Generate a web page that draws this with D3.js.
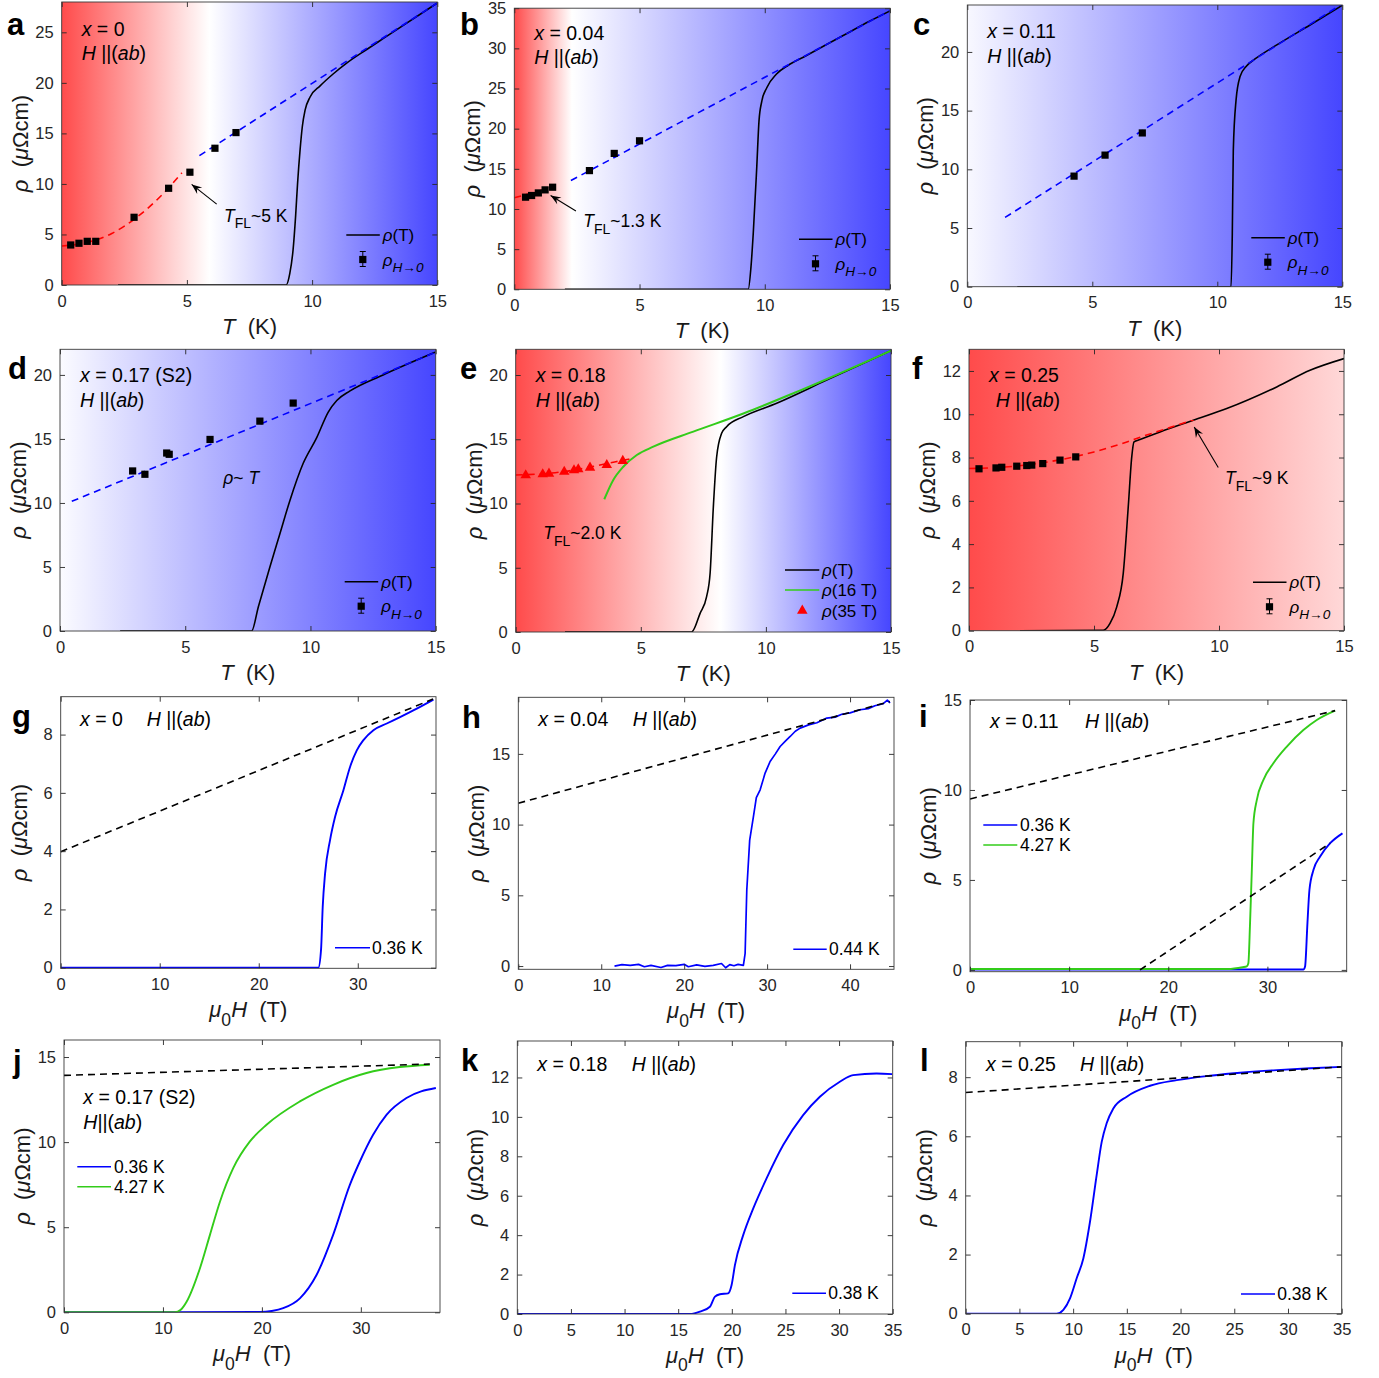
<!DOCTYPE html>
<html>
<head>
<meta charset="utf-8">
<script src="https://cdn.jsdelivr.net/npm/d3@7"></script>
<style>
  body { margin: 0; background: #fff; }
  svg { display: block; font-family: "Liberation Sans", Arial, Helvetica, sans-serif; }
  text { white-space: pre; }
</style>
</head>
<body>
<svg id="fig" width="1379" height="1378"></svg>
<script>
// ================= data: resistivity vs temperature (panels a–f) =================
// a: x = 0
const aRhoT   = [[2.25,0],[8.96,0],[9.11,1.16],[9.24,3.47],[9.34,6.77],[9.42,10.07],[9.52,13.37],[9.61,15.68],[9.72,17.3],[9.92,18.6],[10.32,19.7],[10.85,20.9],[11.38,21.95],[12.18,23.3],[12.85,24.4],[15,27.9]];
const aFitFL  = [[0,3.86],[1,4.2],[2,5.1],[3,6.7],[4,8.9],[4.8,11.1]];
const aFitLin = [[5.5,12.8],[15,27.9]];
const aRhoH0  = [[0.36,3.96],[0.69,4.13],[1.02,4.32],[1.36,4.32],[2.89,6.7],[4.27,9.57],[5.12,11.16],[6.12,13.53],[6.96,15.08]];
const aBg     = [[0,"#ff4b4b"],[5.9,"#ffffff"],[15,"#4646ff"]];

// b: x = 0.04
const bRhoT   = [[2.02,0],[9.34,0],[9.45,2.8],[9.54,6.94],[9.68,15.2],[9.77,20.97],[9.88,23.4],[10.08,25.1],[10.47,26.8],[10.94,27.9],[11.54,28.9],[13.13,31.6],[14.2,33.4],[15,34.66]];
const bFitFL  = [[0,11.39],[1.49,12.7]];
const bFitLin = [[2.26,13.54],[15,34.7]];
const bRhoH0  = [[0.45,11.47],[0.69,11.68],[0.96,12.0],[1.23,12.38],[1.53,12.71],[3.0,14.78],[3.99,16.92],[5.0,18.49]];
const bBg     = [[0,"#ff4b4b"],[2.3,"#ffffff"],[15,"#4646ff"]];

// c: x = 0.11
const cRhoT   = [[2.0,0],[10.55,0],[10.6,4.5],[10.64,11.6],[10.75,15.9],[10.91,17.9],[11.17,18.8],[11.51,19.4],[12.38,20.6],[13.71,22.3],[15,23.97]];
const cFitLin = [[1.51,5.9],[15,24.1]];
const cRhoH0  = [[4.27,9.42],[5.51,11.21],[7.0,13.1]];
const cBg     = [[0,"#f8f8ff"],[15,"#4646ff"]];

// d: x = 0.17 (S2)
const dRhoT   = [[2.4,0],[7.65,0],[7.92,1.9],[8.38,5.0],[8.78,7.6],[9.18,10.2],[9.71,13.1],[10.25,15.1],[10.71,17.1],[11.05,18.0],[11.58,18.75],[12.9,20.0],[14.97,21.77]];
const dFitLin = [[0.47,10.13],[15,21.77]];
const dRhoH0  = [[2.9,12.5],[3.39,12.24],[4.26,13.9],[4.36,13.8],[5.99,14.96],[7.98,16.39],[9.31,17.8]];
const dBg     = [[0,"#fbfbff"],[15,"#4646ff"]];

// e: x = 0.18
const eRhoT   = [[1.97,0],[7.03,0],[7.37,1.45],[7.63,2.75],[7.77,4.57],[7.9,9.75],[8.03,13.6],[8.23,15.46],[8.43,15.98],[9.1,16.76],[10.43,17.8],[12.43,19.6],[15,21.9]];
const eRho16  = [[3.54,10.33],[3.9,11.83],[4.3,12.86],[4.84,13.77],[5.5,14.42],[7.1,15.59],[9.1,17.0],[11.1,18.58],[15,21.9]];
const eRho35  = [[0.4,12.27],[1.08,12.35],[1.33,12.4],[1.94,12.55],[2.33,12.66],[2.5,12.74],[2.97,12.87],[3.64,13.07],[4.28,13.39]];
const eFitFL  = [[0,12.22],[1,12.3],[2,12.5],[3,12.85],[4,13.25],[4.64,13.5]];
const eBg     = [[0,"#ff4b4b"],[8.2,"#ffffff"],[15,"#4646ff"]];

// f: x = 0.25
const fRhoT   = [[2.04,0],[5.37,0.02],[5.64,0.34],[5.91,1.1],[6.17,2.65],[6.37,5.72],[6.51,8.03],[6.6,8.72],[6.84,8.83],[7.64,9.18],[8.97,9.72],[10.31,10.26],[12.31,11.26],[13.64,12.03],[15,12.57]];
const fFitFL  = [[0,7.49],[1,7.53],[2,7.62],[3,7.77],[4,7.98],[5,8.26],[6,8.6],[7,9.0],[8,9.37],[9,9.75]];
const fRhoH0  = [[0.4,7.48],[1.08,7.52],[1.31,7.55],[1.91,7.6],[2.31,7.63],[2.51,7.65],[2.95,7.72],[3.64,7.88],[4.27,8.03]];
const fBg     = [[0,"#ff4b4b"],[15,"#ffd8d8"]];

// ================= data: resistivity vs field (panels g–l) =================
const gRho036 = [[0,0],[26.02,0],[26.29,0.61],[26.46,2.09],[26.7,3.24],[27.2,4.38],[27.71,5.18],[28.55,6.09],[29.22,6.89],[29.9,7.46],[30.57,7.81],[31.58,8.15],[32.93,8.38],[34.27,8.6],[35.96,8.89],[37.64,9.2]];
const gFit    = [[0,3.98],[37.6,9.22]];

const hRho044 = [[11.6,0],[12.5,0.1],[13.5,0.05],[14.5,0.12],[15.2,-0.05],[16,0.05],[17.2,-0.1],[18,0.05],[19,0.03],[20,0.12],[20.5,-0.05],[21.5,0.08],[22.5,-0.02],[23.5,0.05],[24.5,0.18],[25,-0.12],[25.5,0.1],[26,0.02],[26.5,0.12],[27.14,0.05],[27.35,0.9],[27.55,5.38],[27.9,8.9],[28.35,10.57],[28.7,11.9],[29.16,12.46],[29.76,13.64],[30.36,14.46],[31.0,15.0],[31.57,15.52],[32.2,15.9],[32.78,16.23],[33.4,16.6],[33.98,16.82],[35.0,17.05],[36.0,17.2],[37.2,17.53],[38.2,17.6],[39.0,17.8],[40.0,17.9],[41.22,18.12],[42.2,18.2],[43.0,18.4],[44.0,18.55],[44.5,18.8],[44.82,18.6]];
const hFit    = [[0,11.51],[44.8,18.7]];

const iRho036 = [[0,0.02],[33.63,0.02],[33.8,0.19],[34.04,2.6],[34.24,4.44],[34.65,5.56],[35.32,6.3],[36.33,7.04],[37.57,7.59]];
const iRho427 = [[0,0.05],[26,0.05],[27.5,0.15],[27.92,0.2],[28.08,0.37],[28.25,2.6],[28.42,5.37],[28.59,8.15],[28.93,9.44],[29.6,10.56],[30.6,11.48],[31.96,12.41],[33.63,13.33],[34.98,13.89],[36.83,14.41]];
const iFitHi  = [[0,9.5],[36.83,14.41]];
const iFitLo  = [[17.15,0],[36.33,7.04]];

const jRho036 = [[0,0],[19.8,0.02],[21,0.08],[22.15,0.24],[23.84,0.82],[25.52,2.19],[27.2,4.55],[28.89,7.49],[29.9,8.86],[31.24,10.43],[32.59,11.6],[34.61,12.59],[37.58,13.18]];
const jRho427 = [[0,0],[11.2,0],[11.8,0.15],[12.39,0.62],[13.74,2.59],[14.75,4.55],[15.76,6.5],[17.1,8.47],[18.79,10.04],[20.47,11.02],[23.84,12.39],[27.2,13.37],[30.57,14.06],[33.94,14.41],[36.97,14.55]];
const jFit    = [[0,13.92],[36.97,14.59]];

const kRho038 = [[0,0],[16.1,0],[17.03,0.12],[17.96,0.37],[18.43,0.88],[18.89,1.0],[19.66,1.05],[19.98,1.47],[20.29,2.48],[21.06,4.0],[22.0,5.36],[23.24,6.88],[24.79,8.57],[26.65,10.09],[28.21,11.02],[30.07,11.78],[31.31,12.12],[33.49,12.2],[34.95,12.17]];

const lRho038 = [[0,0],[8.47,0],[9.09,0.13],[9.71,0.52],[10.33,1.2],[10.95,1.87],[11.57,3.11],[12.19,4.69],[12.66,5.81],[13.12,6.44],[13.74,6.94],[14.99,7.34],[17.16,7.71],[19.64,7.9],[22.74,8.05],[25.84,8.16],[28.95,8.24],[32.05,8.3],[35,8.35]];
const lFit    = [[0,7.48],[35,8.35]];

// ================= tick values =================
const tTicks   = [0,5,10,15];
const aYTicks  = [0,5,10,15,20,25];
const bYTicks  = [0,5,10,15,20,25,30,35];
const cdeYTicks = [0,5,10,15,20];
const fYTicks  = [0,2,4,6,8,10,12];
const gYTicks  = [0,2,4,6,8];
const hijYTicks = [0,5,10,15];
const kYTicks  = [0,2,4,6,8,10,12];
const lYTicks  = [0,2,4,6,8];
const h38Ticks = [0,10,20,30];
const h45Ticks = [0,10,20,30,40];
const h35Ticks = [0,5,10,15,20,25,30,35];

// ================= colours and styles =================
const BLUE = "#0000ff", RED = "#ff0000", GREEN = "#33cc1a", BLACK = "#000000", AXIS = "#262626";
const FONT = '"Liberation Sans", Arial, Helvetica, sans-serif';

const svg = d3.select("#fig");
const defs = svg.append("defs");

// Text made of styled runs: [string, flags] with flags 'i' (italic) and/or 's' (subscript)
function addText(g, x, y, parts, size, opts = {}) {
  const t = g.append("text").attr("x", x).attr("y", y)
    .attr("font-size", size).attr("fill", opts.fill || "#000");
  if (opts.anchor) t.attr("text-anchor", opts.anchor);
  if (opts.transform) t.attr("transform", opts.transform);
  if (opts.weight) t.attr("font-weight", opts.weight);
  let shift = 0;
  parts.forEach(([s, st = ""]) => {
    const sp = t.append("tspan").text(s);
    if (st.includes("i")) sp.attr("font-style", "italic");
    const want = st.includes("s") ? size * 0.38 : 0;
    if (want !== shift) { sp.attr("dy", want - shift); shift = want; }
    if (st.includes("s")) sp.attr("font-size", size * 0.8);
  });
  return t;
}

const xIs = "x", Hab = [["H", "i"], [" ||("], ["ab", "i"], [")"]];

function drawPanel(p) {
  const [L, T, R, B] = p.box;
  const x = d3.scaleLinear().domain(p.xDom).range([L, R]);
  const y = d3.scaleLinear().domain(p.yDom).range([B, T]);
  const g = svg.append("g");

  // shaded background
  if (p.bg) {
    const gid = "bg-" + p.id;
    const lg = defs.append("linearGradient").attr("id", gid)
      .attr("gradientUnits", "userSpaceOnUse")
      .attr("x1", x(p.xDom[0])).attr("x2", x(p.xDom[1])).attr("y1", 0).attr("y2", 0);
    p.bg.forEach(([v, c]) => lg.append("stop")
      .attr("offset", (v - p.xDom[0]) / (p.xDom[1] - p.xDom[0])).attr("stop-color", c));
    g.append("rect").attr("x", L).attr("y", T).attr("width", R - L).attr("height", B - T)
      .attr("fill", `url(#${gid})`);
  }

  const cid = "clip-" + p.id;
  defs.append("clipPath").attr("id", cid).append("rect")
    .attr("x", L).attr("y", T).attr("width", R - L).attr("height", B - T);
  const pg = g.append("g").attr("clip-path", `url(#${cid})`);

  (p.lines || []).forEach(l => {
    const gen = d3.line().x(d => x(d[0])).y(d => y(d[1]))
      .curve(l.linear ? d3.curveLinear : d3.curveMonotoneX);
    pg.append("path").attr("d", gen(l.data)).attr("fill", "none")
      .attr("stroke", l.color).attr("stroke-width", l.width || 1.6)
      .attr("stroke-dasharray", l.dash ? "7,5" : null)
      .attr("stroke-linejoin", "round");
  });

  (p.marks || []).forEach(m => {
    if (m.shape === "sq") {
      pg.selectAll(null).data(m.data).join("rect")
        .attr("x", d => x(d[0]) - 3.6).attr("y", d => y(d[1]) - 3.6)
        .attr("width", 7.2).attr("height", 7.2).attr("fill", m.color);
    } else {
      const sym = d3.symbol(d3.symbolTriangle, 48);
      pg.selectAll(null).data(m.data).join("path")
        .attr("d", sym).attr("transform", d => `translate(${x(d[0])},${y(d[1]) + 1})`)
        .attr("fill", m.color);
    }
  });

  // arrows pointing at the crossover temperature
  (p.arrows || []).forEach(a => {
    const x1 = x(a.from[0]), y1 = y(a.from[1]), x2 = x(a.to[0]), y2 = y(a.to[1]);
    g.append("line").attr("x1", x1).attr("y1", y1).attr("x2", x2).attr("y2", y2)
      .attr("stroke", "#000").attr("stroke-width", 1.1);
    const ang = Math.atan2(y2 - y1, x2 - x1), len = 11, wid = 0.38;
    const p1 = [x2 - len * Math.cos(ang - wid), y2 - len * Math.sin(ang - wid)];
    const p2 = [x2 - len * Math.cos(ang + wid), y2 - len * Math.sin(ang + wid)];
    const pm = [x2 - len * 0.6 * Math.cos(ang), y2 - len * 0.6 * Math.sin(ang)];
    g.append("path").attr("d", `M${x2},${y2}L${p1[0]},${p1[1]}L${pm[0]},${pm[1]}L${p2[0]},${p2[1]}Z`)
      .attr("fill", "#000");
  });

  (p.dataText || []).forEach(t => addText(g, x(t.at[0]), y(t.at[1]), t.parts, 17.5));

  // annotation text in the upper-left corner
  (p.notes || []).forEach(n => addText(g, L + n.dx, T + n.dy, n.parts, 19.5));

  // legend
  (p.legend || []).forEach(e => {
    const ex = (e.anchor === "L" ? L : R), ey = (e.vAnchor === "T" ? T : B);
    if (e.kind === "line") {
      g.append("line").attr("x1", ex + e.x1).attr("x2", ex + e.x2)
        .attr("y1", ey + e.y).attr("y2", ey + e.y)
        .attr("stroke", e.color).attr("stroke-width", 1.6);
    } else if (e.kind === "sq") {
      const cx = ex + e.cx, cy = ey + e.y;
      g.append("line").attr("x1", cx).attr("x2", cx).attr("y1", cy - 8).attr("y2", cy + 7)
        .attr("stroke", "#000").attr("stroke-width", 1);
      g.append("line").attr("x1", cx - 3).attr("x2", cx + 3).attr("y1", cy - 8).attr("y2", cy - 8).attr("stroke", "#000");
      g.append("line").attr("x1", cx - 3).attr("x2", cx + 3).attr("y1", cy + 7).attr("y2", cy + 7).attr("stroke", "#000");
      g.append("rect").attr("x", cx - 3.6).attr("y", cy - 3.6).attr("width", 7.2).attr("height", 7.2).attr("fill", "#000");
    } else if (e.kind === "tri") {
      g.append("path").attr("d", d3.symbol(d3.symbolTriangle, 48))
        .attr("transform", `translate(${ex + e.cx},${ey + e.y})`).attr("fill", e.color);
    }
    addText(g, ex + e.tx, ey + e.y + 6, e.parts, e.size || 17);
  });

  // axes: inward ticks on all four sides
  const styleAxis = s => {
    s.select(".domain").remove();
    s.attr("font-size", 16.5).attr("font-family", FONT).attr("color", AXIS);
    s.selectAll("text").attr("fill", AXIS);
    s.selectAll("line").attr("stroke-width", 0.9);
  };
  g.append("g").attr("transform", `translate(0,${B})`)
    .call(d3.axisBottom(x).tickValues(p.xTicks).tickSizeInner(-5).tickSizeOuter(0).tickPadding(10).tickFormat(d3.format("d")))
    .call(styleAxis);
  g.append("g").attr("transform", `translate(0,${T})`)
    .call(d3.axisTop(x).tickValues(p.xTicks).tickSizeInner(-5).tickSizeOuter(0).tickFormat(""))
    .call(styleAxis);
  g.append("g").attr("transform", `translate(${L},0)`)
    .call(d3.axisLeft(y).tickValues(p.yTicks).tickSizeInner(-5).tickSizeOuter(0).tickPadding(8).tickFormat(d3.format("d")))
    .call(styleAxis);
  g.append("g").attr("transform", `translate(${R},0)`)
    .call(d3.axisRight(y).tickValues(p.yTicks).tickSizeInner(-5).tickSizeOuter(0).tickFormat(""))
    .call(styleAxis);
  g.append("rect").attr("x", L).attr("y", T).attr("width", R - L).attr("height", B - T)
    .attr("fill", "none").attr("stroke", "#3a3a3a").attr("stroke-width", 0.9);

  // axis titles
  const xLab = p.field
    ? [["\u03bc", "i"], ["0", "s"], ["H", "i"], ["  (T)"]]
    : [["T", "i"], ["  (K)"]];
  addText(g, (L + R) / 2, B + 49, xLab, 22, { anchor: "middle", fill: "#1a1a1a" });
  const yx = L - 34, yy = (T + B) / 2;
  addText(g, yx, yy, [["\u03c1", "i"], ["  ("], ["\u03bc", "i"], ["\u03a9cm)"]], 22,
    { anchor: "middle", transform: `rotate(-90,${yx},${yy})`, fill: "#1a1a1a" });

  // panel letter
  addText(svg, p.letter[1], p.letter[2], [[p.letter[0]]], 31, { weight: "bold" });
}

// legend rows shared by panels a–d and f
const legRhoT = (dy) => [
  { kind: "line", x1: -91, x2: -57.5, y: dy, color: BLACK, tx: -54.5, parts: [["\u03c1", "i"], ["(T)"]] },
  { kind: "sq", cx: -74.5, y: dy + 24.5, tx: -54.5, parts: [["\u03c1", "i"], ["H\u21920", "is"]] }
];
const TFL = (t) => [["T", "i"], ["FL", "s"], [t]];

const panels = [
  { id: "a", box: [61.7, 2, 437.3, 285], xDom: [0, 15], yDom: [0, 28], xTicks: tTicks, yTicks: aYTicks, bg: aBg,
    letter: ["a", 7, 35],
    lines: [{ data: aRhoT, color: BLACK }, { data: aFitFL, color: RED, dash: true }, { data: aFitLin, color: BLUE, dash: true }],
    marks: [{ data: aRhoH0, shape: "sq", color: "#000" }],
    arrows: [{ from: [6.19, 8.0], to: [5.19, 9.95] }],
    dataText: [{ at: [6.48, 6.27], parts: TFL("~5 K") }],
    notes: [{ dx: 20, dy: 33.7, parts: [[xIs, "i"], [" = 0"]] }, { dx: 20, dy: 58, parts: Hab }],
    legend: legRhoT(-50) },
  { id: "b", box: [514.3, 8.2, 890, 289.3], xDom: [0, 15], yDom: [0, 35], xTicks: tTicks, yTicks: bYTicks, bg: bBg,
    letter: ["b", 460, 35],
    lines: [{ data: bRhoT, color: BLACK }, { data: bFitFL, color: RED, dash: true }, { data: bFitLin, color: BLUE, dash: true }],
    marks: [{ data: bRhoH0, shape: "sq", color: "#000" }],
    arrows: [{ from: [2.46, 9.74], to: [1.45, 11.68] }],
    dataText: [{ at: [2.75, 7.75], parts: TFL("~1.3 K") }],
    notes: [{ dx: 20, dy: 32, parts: [[xIs, "i"], [" = 0.04"]] }, { dx: 20, dy: 56, parts: Hab }],
    legend: legRhoT(-50) },
  { id: "c", box: [967.3, 5, 1342.3, 286.7], xDom: [0, 15], yDom: [0, 24], xTicks: tTicks, yTicks: cdeYTicks, bg: cBg,
    letter: ["c", 913, 35],
    lines: [{ data: cRhoT, color: BLACK }, { data: cFitLin, color: BLUE, dash: true }],
    marks: [{ data: cRhoH0, shape: "sq", color: "#000" }],
    notes: [{ dx: 20, dy: 33.3, parts: [[xIs, "i"], [" = 0.11"]] }, { dx: 20, dy: 57.7, parts: Hab }],
    legend: legRhoT(-49) },
  { id: "d", box: [60, 349.3, 435.7, 631], xDom: [0, 15], yDom: [0, 22], xTicks: tTicks, yTicks: cdeYTicks, bg: dBg,
    letter: ["d", 8, 379],
    lines: [{ data: dRhoT, color: BLACK }, { data: dFitLin, color: BLUE, dash: true }],
    marks: [{ data: dRhoH0, shape: "sq", color: "#000" }],
    dataText: [{ at: [6.52, 11.5], parts: [["\u03c1", "i"], ["~ "], ["T", "i"]] }],
    notes: [{ dx: 20, dy: 33, parts: [[xIs, "i"], [" = 0.17 (S2)"]] }, { dx: 20, dy: 57.4, parts: Hab }],
    legend: legRhoT(-49.3) },
  { id: "e", box: [515.7, 349.3, 891, 632], xDom: [0, 15], yDom: [0, 22], xTicks: tTicks, yTicks: cdeYTicks, bg: eBg,
    letter: ["e", 460, 379],
    lines: [{ data: eRhoT, color: BLACK }, { data: eRho16, color: GREEN, width: 2 }, { data: eFitFL, color: RED, dash: true }],
    marks: [{ data: eRho35, shape: "tri", color: RED }],
    dataText: [{ at: [1.1, 7.24], parts: TFL("~2.0 K") }],
    notes: [{ dx: 20, dy: 32.4, parts: [[xIs, "i"], [" = 0.18"]] }, { dx: 20, dy: 57.4, parts: Hab }],
    legend: [
      { kind: "line", x1: -106, x2: -71.7, y: -62, color: BLACK, tx: -69, parts: [["\u03c1", "i"], ["(T)"]] },
      { kind: "line", x1: -106, x2: -71.7, y: -42, color: GREEN, tx: -69, parts: [["\u03c1", "i"], ["(16 T)"]] },
      { kind: "tri", cx: -88.7, y: -21.3, color: RED, tx: -69, parts: [["\u03c1", "i"], ["(35 T)"]] }
    ] },
  { id: "f", box: [969, 349.3, 1344, 630.7], xDom: [0, 15], yDom: [0, 13], xTicks: tTicks, yTicks: fYTicks, bg: fBg,
    letter: ["f", 912, 379],
    lines: [{ data: fRhoT, color: BLACK }, { data: fFitFL, color: RED, dash: true }],
    marks: [{ data: fRhoH0, shape: "sq", color: "#000" }],
    arrows: [{ from: [9.97, 7.54], to: [9.01, 9.41] }],
    dataText: [{ at: [10.24, 6.76], parts: TFL("~9 K") }],
    notes: [{ dx: 20, dy: 32.4, parts: [[xIs, "i"], [" = 0.25"]] }, { dx: 26.7, dy: 57.4, parts: Hab }],
    legend: legRhoT(-48.4) },

  { id: "g", field: true, box: [60.7, 696.7, 436, 968.3], xDom: [0, 37.9], yDom: [-0.02, 9.3], xTicks: h38Ticks, yTicks: gYTicks,
    letter: ["g", 12, 727],
    lines: [{ data: gRho036, color: BLUE, width: 1.9 }, { data: gFit, color: BLACK, dash: true }],
    notes: [{ dx: 19.3, dy: 29, parts: [[xIs, "i"], [" = 0"]] }, { dx: 86, dy: 29, parts: Hab }],
    legend: [{ kind: "line", x1: -101, x2: -66, y: -20.6, color: BLUE, tx: -64, size: 17.5, parts: [["0.36 K"]] }] },
  { id: "h", field: true, box: [518.3, 697.3, 894, 969.3], xDom: [0, 45.3], yDom: [-0.23, 19], xTicks: h45Ticks, yTicks: hijYTicks,
    letter: ["h", 462, 728],
    lines: [{ data: hRho044, color: BLUE, width: 1.7, linear: true }, { data: hFit, color: BLACK, dash: true }],
    notes: [{ dx: 20, dy: 28.7, parts: [[xIs, "i"], [" = 0.04"]] }, { dx: 114.4, dy: 28.7, parts: Hab }],
    legend: [{ kind: "line", x1: -100.7, x2: -67.3, y: -20, color: BLUE, tx: -65, size: 17.5, parts: [["0.44 K"]] }] },
  { id: "i", field: true, box: [970, 700, 1346.7, 971.7], xDom: [0, 38], yDom: [-0.1, 15], xTicks: h38Ticks, yTicks: hijYTicks,
    letter: ["i", 919, 727],
    lines: [{ data: iRho036, color: BLUE, width: 1.9 }, { data: iRho427, color: GREEN, width: 1.9 },
            { data: iFitHi, color: BLACK, dash: true }, { data: iFitLo, color: BLACK, dash: true }],
    notes: [{ dx: 20, dy: 28.3, parts: [[xIs, "i"], [" = 0.11"]] }, { dx: 115, dy: 28.3, parts: Hab }],
    legend: [
      { kind: "line", anchor: "L", vAnchor: "T", x1: 13.3, x2: 47.3, y: 125, color: BLUE, tx: 50, size: 17.5, parts: [["0.36 K"]] },
      { kind: "line", anchor: "L", vAnchor: "T", x1: 13.3, x2: 47.3, y: 145, color: GREEN, tx: 50, size: 17.5, parts: [["4.27 K"]] }
    ] },
  { id: "j", field: true, box: [64, 1040, 440, 1312.3], xDom: [0, 38], yDom: [0, 16], xTicks: h38Ticks, yTicks: hijYTicks,
    letter: ["j", 13, 1072],
    lines: [{ data: jRho036, color: BLUE, width: 1.9 }, { data: jRho427, color: GREEN, width: 1.9 }, { data: jFit, color: BLACK, dash: true }],
    notes: [{ dx: 19.3, dy: 64, parts: [[xIs, "i"], [" = 0.17 (S2)"]] },
            { dx: 19.3, dy: 89.3, parts: [["H", "i"], ["||("], ["ab", "i"], [")"]] }],
    legend: [
      { kind: "line", anchor: "L", vAnchor: "T", x1: 13.3, x2: 47, y: 126.7, color: BLUE, tx: 50, size: 17.5, parts: [["0.36 K"]] },
      { kind: "line", anchor: "L", vAnchor: "T", x1: 13.3, x2: 47, y: 146.7, color: GREEN, tx: 50, size: 17.5, parts: [["4.27 K"]] }
    ] },
  { id: "k", field: true, box: [517.3, 1041, 892.7, 1314], xDom: [0, 35], yDom: [0, 13.85], xTicks: h35Ticks, yTicks: kYTicks,
    letter: ["k", 461, 1071],
    lines: [{ data: kRho038, color: BLUE, width: 1.9 }],
    notes: [{ dx: 20, dy: 30, parts: [[xIs, "i"], [" = 0.18"]] }, { dx: 114.4, dy: 30, parts: Hab }],
    legend: [{ kind: "line", x1: -100.4, x2: -66.7, y: -20.7, color: BLUE, tx: -64.5, size: 17.5, parts: [["0.38 K"]] }] },
  { id: "l", field: true, box: [965.7, 1041.7, 1341.7, 1313.7], xDom: [0, 35], yDom: [0, 9.2], xTicks: h35Ticks, yTicks: lYTicks,
    letter: ["l", 920, 1071],
    lines: [{ data: lRho038, color: BLUE, width: 1.9 }, { data: lFit, color: BLACK, dash: true }],
    notes: [{ dx: 20.3, dy: 29.3, parts: [[xIs, "i"], [" = 0.25"]] }, { dx: 114.3, dy: 29.3, parts: Hab }],
    legend: [{ kind: "line", x1: -100.7, x2: -66.7, y: -19.7, color: BLUE, tx: -64.5, size: 17.5, parts: [["0.38 K"]] }] }
];

panels.forEach(drawPanel);
</script>
</body>
</html>
